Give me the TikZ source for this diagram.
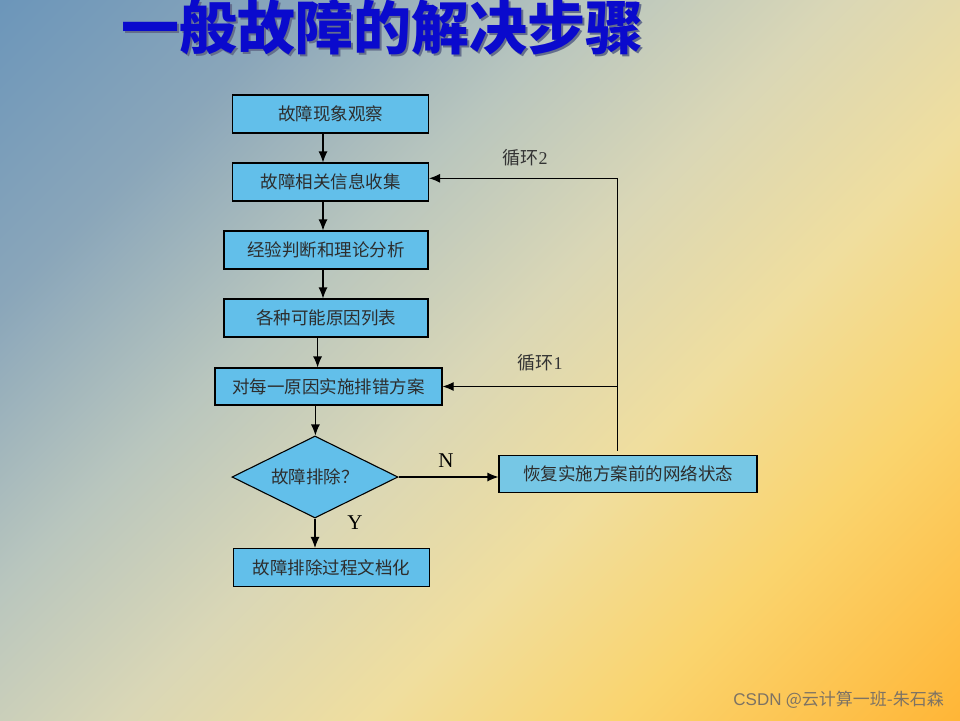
\documentclass[tikz,border=0pt]{standalone}
\usepackage{fontspec}
\setmainfont{Liberation Serif}
\newfontfamily\cjk{Noto Sans CJK SC}
\newfontfamily\wmsans{Liberation Sans}
\usetikzlibrary{shapes.geometric,arrows.meta,calc}
\definecolor{boxfill}{RGB}{98,191,234}
\definecolor{recfill}{RGB}{118,199,229}
\definecolor{txt}{RGB}{45,45,45}
\definecolor{ttl}{RGB}{10,10,205}
\definecolor{ttlshadow}{RGB}{100,110,140}
\definecolor{wm}{RGB}{125,115,100}
\definecolor{c0}{RGB}{108,150,186}
\definecolor{c1}{RGB}{138,166,186}
\definecolor{c2}{RGB}{185,198,190}
\definecolor{c3}{RGB}{218,215,182}
\definecolor{c4}{RGB}{240,222,158}
\definecolor{c5}{RGB}{250,212,110}
\definecolor{c6}{RGB}{255,182,55}
\pgfdeclarehorizontalshading{bgshade}{100bp}{color(0bp)=(c0); color(14.6bp)=(c0); color(27.3bp)=(c1); color(39.4bp)=(c2); color(50bp)=(c3); color(60.6bp)=(c4); color(71.2bp)=(c5); color(85.4bp)=(c6); color(100bp)=(c6)}
\tikzset{
  stepbox/.style={draw=black, line width=1.1pt, fill=boxfill, inner sep=0pt, text=txt, font=\cjk\fontsize{17.5}{20}\selectfont, align=center},
  decide/.style={draw=black, line width=1.1pt, fill=boxfill, inner sep=0pt, shape=diamond, aspect=2, text=txt, font=\cjk\fontsize{17.5}{20}\selectfont},
  arr/.style={draw=black, line width=1.1pt, -{Latex[length=11pt,width=9pt]}},
  lbl/.style={inner sep=0pt, text=black!80, font=\fontsize{18}{20}\selectfont},
  yn/.style={inner sep=0pt, text=black, font=\fontsize{21}{24}\selectfont}
}
\begin{document}
\begin{tikzpicture}[x=1pt,y=-1pt]
\useasboundingbox (0,0) rectangle (960,720);
\shade[shading=bgshade, shading angle=-45] (0,0) rectangle (960,720);

% title
\node[text=ttlshadow, inner sep=0pt, font=\cjk\bfseries\fontsize{58}{60}\selectfont] (tsh) at (384.5,29) {一般故障的解决步骤};
\node[text=ttl, inner sep=0pt, font=\cjk\bfseries\fontsize{58}{60}\selectfont] (title) at (382.5,27) {一般故障的解决步骤};

% boxes
\node[stepbox, minimum width=196pt, minimum height=38pt] (b1) at (330.5,114) {故障现象观察};
\node[stepbox, minimum width=196pt, minimum height=38pt] (b2) at (330.5,182) {故障相关信息收集};
\node[stepbox, minimum width=204pt, minimum height=38pt] (b3) at (326,250) {经验判断和理论分析};
\node[stepbox, minimum width=204pt, minimum height=38pt] (b4) at (326,318) {各种可能原因列表};
\node[stepbox, minimum width=227pt, minimum height=37pt] (b5) at (328.5,386.5) {对每一原因实施排错方案};
\node[decide, minimum width=166pt, minimum height=82pt] (d) at (315,477) {故障排除？};
\node[stepbox, fill=recfill, minimum width=258pt, minimum height=37pt] (r) at (628,474) {恢复实施方案前的网络状态};
\node[stepbox, minimum width=196pt, minimum height=38pt] (b7) at (331.3,567.5) {故障排除过程文档化};

% guide coordinates
\coordinate (xa) at (323,0);
\coordinate (xb) at (317.6,0);
\coordinate (xc) at (315.4,0);
\coordinate (lx) at (617.3,0);
\coordinate (l2y) at (0,178.3);

% connectors
\draw[arr] (b1.south -| xa) -- (b2.north -| xa);
\draw[arr] (b2.south -| xa) -- (b3.north -| xa);
\draw[arr] (b3.south -| xa) -- (b4.north -| xa);
\draw[arr] (b4.south -| xb) -- (b5.north -| xb);
\draw[arr] (b5.south -| xc) -- (d.north -| xc);
\draw[arr] (d.south) -- (b7.north -| d.south);
\draw[arr] (d.east) -- (d.east -| r.west);
\draw[arr] ([yshift=4pt]r.north -| lx) -- (lx |- l2y) -- (b2.east |- l2y);
\draw[arr] (lx |- b5.east) -- (b5.east);

% labels
\node[lbl] (loop2) at (525,158) {{\cjk 循环}2};
\node[lbl] (loop1) at (540,363) {{\cjk 循环}1};
\node[yn] (n) at (446,461) {N};
\node[yn] (y) at (355,523) {Y};

% watermark
\node[inner sep=0pt, anchor=east, text=wm, font=\fontsize{17}{20}\selectfont] (wmk) at (944,700) {{\wmsans CSDN} {\cjk @云计算一班-朱石森}};
\end{tikzpicture}
\end{document}
